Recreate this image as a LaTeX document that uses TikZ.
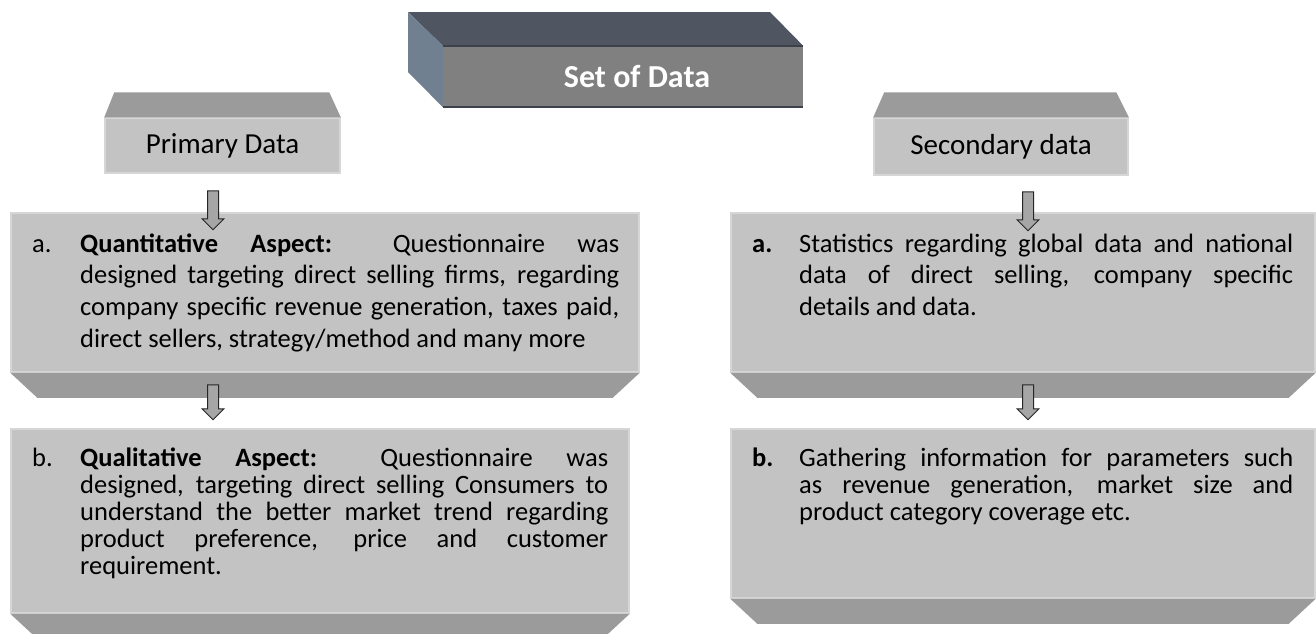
\documentclass[tikz,border=0pt]{standalone}
\usepackage{fontspec}
\setmainfont{Carlito}
\usetikzlibrary{shapes.arrows}
\definecolor{facegray}{HTML}{C3C3C3}
\definecolor{edgegray}{HTML}{D6D6D6}
\definecolor{bevelgray}{HTML}{9B9B9B}
\definecolor{arrowgray}{HTML}{A6A6A6}
\definecolor{titletop}{HTML}{4F5661}
\definecolor{titleside}{HTML}{718090}
\definecolor{titlefront}{HTML}{808080}
\definecolor{titleline}{HTML}{3D424A}
\tikzset{
	face/.style={draw=edgegray,fill=facegray,line width=1.5pt,inner sep=0pt},
	downarrow/.style={single arrow,rotate=-90,draw=black!85,fill=arrowgray,line width=1pt,inner sep=5pt,single arrow head extend=5.5pt,minimum width=21pt},
	bodytext/.style={anchor=base west,inner sep=0pt,align=justify,font=\fontsize{26.5}{#1}\selectfont},
	bodytext/.default=31.7
}
\begin{document}
\begin{tikzpicture}[x=1pt,y=-1pt]
	\useasboundingbox (0,0) rectangle (1316,633);
	\clip (0,0) rectangle (1316,633);

	\node [fill=titlefront,minimum width=360pt,minimum height=61pt,inner sep=0pt](title) at (623,76.5) {};
	\fill [titletop] (408,12) -- (770,12) -- (title.north east) -- (title.north west) -- cycle;
	\fill [titleside] (408,12) -- (title.north west) -- (title.south west) -- (408,72) -- cycle;
	\draw [titleline,line width=2pt] (title.north west) -- (title.north east) (title.south west) -- (title.south east);
	\node [text=white,font=\fontsize{32}{38}\selectfont\bfseries](titletext) at (637,76) {Set of Data};

	\node [face,minimum width=235pt,minimum height=55pt,font=\fontsize{29}{35}\selectfont](prim) at (222.5,145.5) {Primary Data};
	\fill [bevelgray] (prim.north west) -- ++(10,-25) -- ++(215,0) -- (prim.north east) -- cycle;
	\node [face,minimum width=254pt,minimum height=57pt,font=\fontsize{29}{35}\selectfont](sec) at (1001,146.5) {Secondary data};
	\fill [bevelgray] (sec.north west) -- ++(11,-25) -- ++(232,0) -- (sec.north east) -- cycle;

	\node [face,minimum width=628pt,minimum height=159pt](qa) at (325,292.5) {};
	\fill [bevelgray] (qa.south west) -- (qa.south east) -- ([xshift=-27pt,yshift=-25pt]qa.south east) -- ([xshift=27pt,yshift=-25pt]qa.south west) -- cycle;
	\node [face,minimum width=618pt,minimum height=184pt](qb) at (320,521) {};
	\fill [bevelgray] (qb.south west) -- (qb.south east) -- ([xshift=-27pt,yshift=-25pt]qb.south east) -- ([xshift=27pt,yshift=-25pt]qb.south west) -- cycle;
	\node [face,minimum width=584pt,minimum height=159pt](sa) at (1023,292.5) {};
	\fill [bevelgray] (sa.south west) -- (sa.south east) -- ([xshift=-27pt,yshift=-25pt]sa.south east) -- ([xshift=27pt,yshift=-25pt]sa.south west) -- cycle;
	\node [face,minimum width=584pt,minimum height=169pt](sb) at (1023,513.5) {};
	\fill [bevelgray] (sb.south west) -- (sb.south east) -- ([xshift=-27pt,yshift=-25pt]sb.south east) -- ([xshift=27pt,yshift=-25pt]sb.south west) -- cycle;

	\node [bodytext](qalabel) at (32,252) {a.};
	\node [bodytext,text width=539pt](qatext) at (80,252) {\textbf{Quantitative Aspect:} Questionnaire was\linebreak designed targeting direct selling firms, regarding\linebreak company specific revenue generation, taxes paid,\linebreak direct sellers, strategy/method and many more};
	\node [bodytext=27](qblabel) at (32,466) {b.};
	\node [bodytext=27,text width=528pt](qbtext) at (80,466) {\textbf{Qualitative Aspect:} Questionnaire was\linebreak designed, targeting direct selling Consumers to\linebreak understand the better market trend regarding\linebreak product preference, price and customer\linebreak requirement.};
	\node [bodytext](salabel) at (752,252) {\textbf{a.}};
	\node [bodytext,text width=494pt](satext) at (799,252) {Statistics regarding global data and national\linebreak data of direct selling, company specific\linebreak details and data.};
	\node [bodytext=27](sblabel) at (752,466) {\textbf{b.}};
	\node [bodytext=27,text width=494pt](sbtext) at (799,466) {Gathering information for parameters such\linebreak as revenue generation, market size and\linebreak product category coverage etc.};

	\node [downarrow,minimum height=39pt](primarrow) at (213,207.5) {};
	\node [downarrow,minimum height=35pt](qaarrow) at (213,399.5) {};
	\node [downarrow,minimum height=39pt](secarrow) at (1028,208.5) {};
	\node [downarrow,minimum height=35pt](saarrow) at (1028,399.5) {};
\end{tikzpicture}
\end{document}
